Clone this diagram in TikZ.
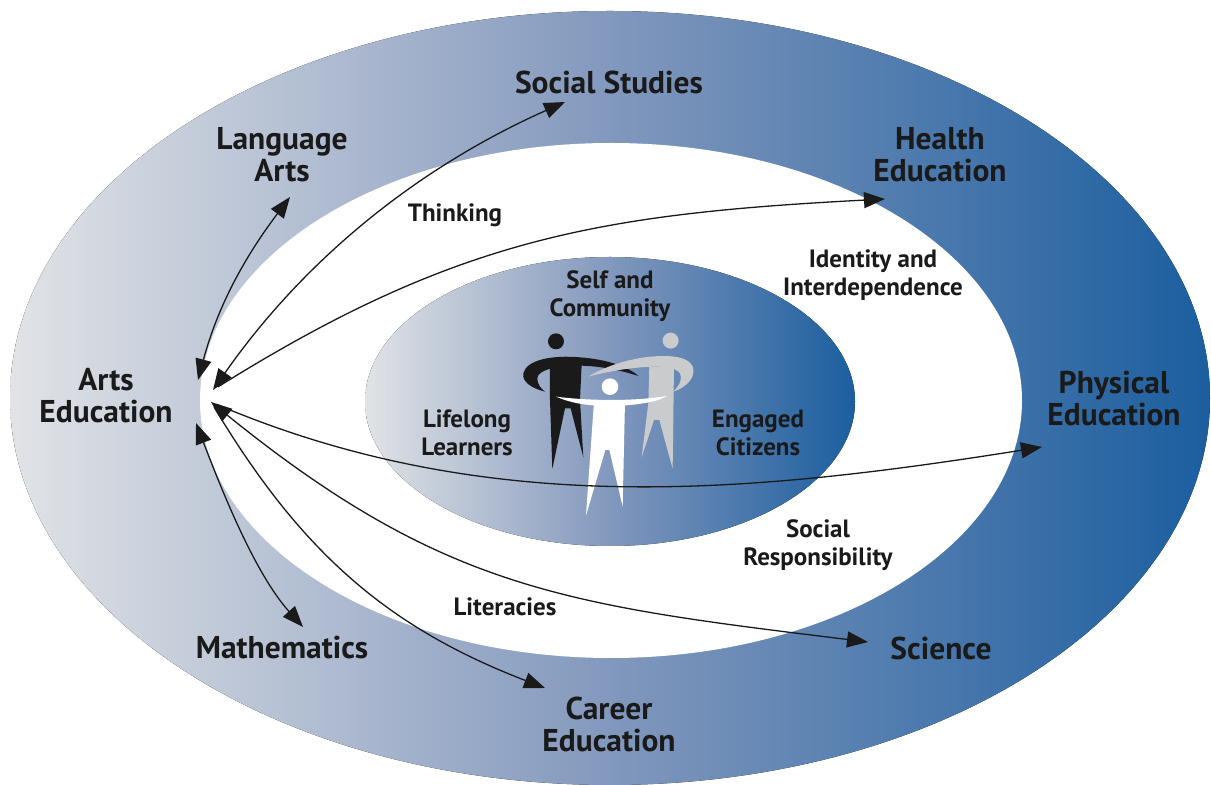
\documentclass[tikz,border=0pt]{standalone}
\usepackage{fontspec}
\setmainfont{PT Sans}
\usetikzlibrary{arrows.meta}

\definecolor{labelgray}{HTML}{1A1A1A}
\definecolor{ringleft}{HTML}{E1E3E6}
\definecolor{ringmid}{HTML}{8298BD}
\definecolor{ringright}{HTML}{1B5E9F}
\definecolor{figgray}{HTML}{C9CBCD}

\tikzset{
  bighead/.tip={Triangle[length=21pt,width=16pt]},
  ring/.style={font=\fontsize{31.5}{32}\selectfont\bfseries, text=labelgray, align=center},
  theme/.style={font=\fontsize{25}{27.5}\selectfont\bfseries, text=labelgray, align=center},
  link/.style={line width=1.3pt, draw=labelgray},
  shade/.style={left color=ringleft, right color=ringright, middle color=ringmid},
}

\begin{document}
\begin{tikzpicture}[x=1pt, y=1pt]
\useasboundingbox (0,0) rectangle (1211,785);
\fill[white] (0,0) rectangle (1211,785);

% rings
\fill[shade] (610,387) ellipse [x radius=600pt, y radius=387pt];
\fill[white] (611,384.5) ellipse [x radius=411pt, y radius=257.5pt];
\fill[shade] (610,383.5) ellipse [x radius=245pt, y radius=144.5pt];

% people
\begin{scope}[shift={(500pt,465pt)}, x=0.3333pt, y=-0.3333pt]
\fill[labelgray] (168,64) circle [radius=8pt];
\fill[labelgray] (70,160) .. controls (80,118) and (160,105) .. (240,112) .. controls (320,118) and (385,140) .. (415,168) .. controls (360,150) and (300,138) .. (240,137) .. controls (170,137) and (112,150) .. (112,175) .. controls (112,192) and (122,205) .. (135,215) .. controls (95,205) and (65,185) .. (70,160) -- cycle;
\fill[labelgray] (150,135) -- (245,135) -- (240,240) -- (250,412) -- (212,265) -- (195,265) -- (157,447) -- (150,240) -- cycle;
\fill[figgray] (512,62) circle [radius=8pt];
\fill[figgray] (265,170) .. controls (330,130) and (420,108) .. (490,108) .. controls (560,108) and (585,130) .. (580,160) .. controls (575,185) and (550,205) .. (520,215) .. controls (540,195) and (548,175) .. (540,160) .. controls (530,145) and (500,140) .. (470,140) .. controls (400,140) and (320,155) .. (265,170) -- cycle;
\fill[figgray] (448,140) -- (522,140) -- (518,447) -- (478,300) -- (462,300) -- (425,412) -- (445,250) -- cycle;
\fill[white] (330,200) circle [radius=8.3pt];
\fill[white] (168,230) .. controls (260,242) and (400,245) .. (500,228) .. controls (480,245) and (400,258) .. (330,258) .. controls (270,258) and (220,252) .. (168,230) -- cycle;
\fill[white] (282,245) -- (375,245) -- (368,560) -- (328,390) -- (316,390) -- (258,587) -- cycle;
\end{scope}

% outer ring
\node (social) at (609, 703) [ring] {Social Studies};
\node (lang) at (282, 630) [ring] {Language\\Arts};
\node (health) at (940, 630) [ring] {Health\\Education};
\node (arts) at (106, 389) [ring] {Arts\\Education};
\node (phys) at (1114, 386) [ring] {Physical\\Education};
\node (math) at (282, 137) [ring] {Mathematics};
\node (sci) at (941, 137) [ring] {Science};
\node (career) at (609, 61) [ring] {Career\\Education};

% middle ring
\node (think) at (455, 570) [theme] {Thinking};
\node (ident) at (873, 510) [theme] {Identity and\\Interdependence};
\node (resp) at (818, 240) [theme] {Social\\Responsibility};
\node (lit) at (505, 178) [theme] {Literacies};

% centre
\node (self) at (610, 489) [theme] {Self and\\Community};
\node (life) at (467, 352) [theme] {Lifelong\\Learners};
\node (citz) at (758, 352) [theme] {Engaged\\Citizens};

% arrow ends
\coordinate (artsA) at (198, 405);
\coordinate (artsB) at (213, 395);
\coordinate (artsC) at (211, 383);
\coordinate (artsD) at (196, 362);
\coordinate (langT) at (290, 588);
\coordinate (socT) at (565, 683);
\coordinate (healthT) at (885, 586);
\coordinate (physT) at (1042, 338);
\coordinate (sciT) at (868, 143);
\coordinate (careerT) at (545, 97);
\coordinate (mathT) at (303, 158);

\draw[link, bighead-bighead] (artsA) to [out=75, in=233, looseness=0.95] (langT);
\draw[link, bighead-bighead] (artsB) to [out=55, in=204, looseness=0.9] (socT);
\draw[link, -bighead, shorten <=6pt] (artsB) to [out=32, in=183, looseness=1.05] (healthT);
\draw[link, -bighead, shorten <=6pt] (artsC) to [out=-23, in=189, looseness=0.92] (physT);
\draw[link, bighead-bighead] (artsC) to [out=-39, in=173, looseness=1.1] (sciT);
\draw[link, -bighead, shorten <=6pt] (artsC) to [out=-59, in=159] (careerT);
\draw[link, bighead-bighead] (artsD) to [out=-69, in=132, looseness=0.8] (mathT);
\end{tikzpicture}
\end{document}
